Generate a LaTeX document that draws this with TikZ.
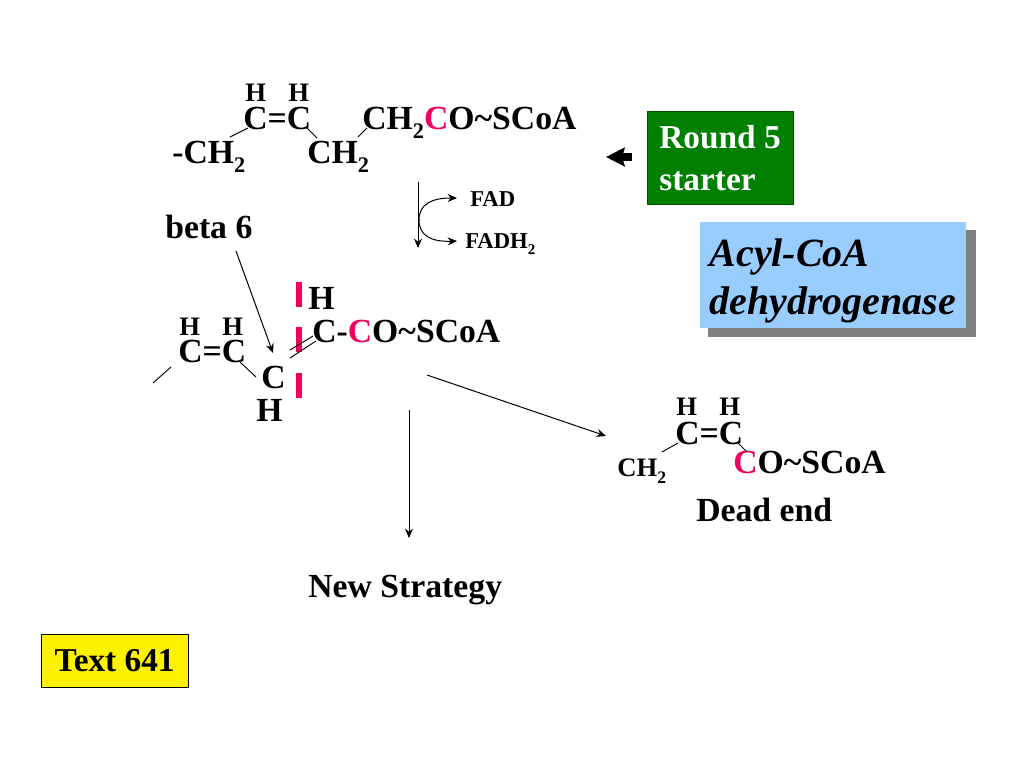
\documentclass[tikz,border=0pt]{standalone}
\usepackage{fontspec}
\setmainfont{Liberation Serif}
\usepackage{xcolor}
\usetikzlibrary{arrows.meta}
\definecolor{chemred}{HTML}{F0005F}
\definecolor{startgreen}{HTML}{007F00}
\definecolor{enzblue}{HTML}{99CCFF}
\definecolor{enzshadow}{HTML}{808080}
\newcommand{\subtwo}{\raisebox{-.27em}{\scalebox{.66}{2}}}
\newcommand{\rC}{\textcolor{chemred}{C}}
\tikzset{
  chem/.style={inner sep=0pt, anchor=base west, font=\fontsize{25.3}{30}\selectfont\bfseries},
  chemh/.style={chem, font=\fontsize{20}{24}\selectfont\bfseries},
  chemsmall/.style={chem, font=\fontsize{17}{20}\selectfont\bfseries},
  bond/.style={line width=.7pt},
  cutbar/.style={fill=chemred, inner sep=0pt, minimum width=4.5pt, minimum height=19pt}
}
\begin{document}
\begin{tikzpicture}[>={Stealth[length=7pt,width=6pt]}, x=.75pt, y=-.75pt]
  \useasboundingbox (0,0) rectangle (1024,768);
  %coordinates
  \coordinate (FADtop)   at (418,182);
  \coordinate (FADbot)   at (418,248);
  \coordinate (FADmid)   at (419,220);
  \coordinate (StubA)    at (153,383);
  \coordinate (StubB)    at (171,367);
  \coordinate (StartTip) at (606,157);
  \coordinate (StartEnd) at (632,157);

  %nodes
  \node[chemh] (HA) at (245,101) {H};
  \node[chemh] (HB) at (288,101) {H};
  \node[chem] (CCtop) at (243,129) {C=C};
  \node[chem] (AcylTop) at (362,129) {CH\subtwo\rC O\textasciitilde SCoA};
  \node[chem] (CHleft) at (172,163) {-CH\subtwo};
  \node[chem] (CHmid) at (307,163) {CH\subtwo};
  \node[chemsmall] (FAD) at (470,206) {FAD};
  \node[chemsmall] (FADH) at (465,248) {FADH\subtwo};
  \node[chem] (Beta) at (165,238) {beta 6};

  \node[cutbar] (BarA) at (298.5,294.5) {};
  \node[cutbar] (BarB) at (298.5,339.5) {};
  \node[cutbar] (BarC) at (298.5,385.5) {};
  \node[chem] (HC) at (308,309) {H};
  \node[chem] (AcylMid) at (312,342) {C-\rC O\textasciitilde SCoA};
  \node[chemh] (HD) at (179,335) {H};
  \node[chemh] (HE) at (222,335) {H};
  \node[chem] (CCmid) at (178,362) {C=C};
  \node[chem] (CLow) at (261,388) {C};
  \node[chem] (HF) at (256,421) {H};

  \node[chemh] (HG) at (676,415) {H};
  \node[chemh] (HH) at (719,415) {H};
  \node[chem] (CCend) at (675,444) {C=C};
  \node[chem, font=\fontsize{20}{24}\selectfont\bfseries] (CHend) at (617,476) {CH\subtwo};
  \node[chem] (AcylEnd) at (733,473) {\rC O\textasciitilde SCoA};
  \node[chem] (Dead) at (696,521) {Dead end};
  \node[chem] (Strategy) at (308,597) {New Strategy};

  \node[draw=green!30!black, fill=startgreen, text=white, anchor=north west, minimum width=110pt, minimum height=70pt, inner sep=0pt, align=left, font=\fontsize{25}{31}\selectfont\bfseries] (Round) at (646.5,111) {Round 5\hspace{1pt}\\ starter};
  \node[fill=enzshadow, anchor=north west, minimum width=200.5pt, minimum height=80pt, inner sep=0pt] (EnzShadow) at (708,230) {};
  \node[fill=enzblue, anchor=north west, minimum width=199pt, minimum height=79.5pt, inner sep=0pt, align=left, font=\fontsize{30}{36}\selectfont\bfseries\itshape] (Enzyme) at (700,222) {\rule{0pt}{29pt}Acyl-CoA\\ dehydrogenase};
  \node[draw, fill=yellow, anchor=north west, minimum width=110pt, minimum height=39.5pt, inner sep=0pt, font=\fontsize{25}{30}\selectfont\bfseries] (Text) at (41,634) {Text 641\hspace{4pt}};

%bonds
\draw[bond] ([shift={(5,-1)}]CCtop.base west) -- ([shift={(58,-26)}]CHleft.base west);
\draw[bond] ([shift={(64,-1)}]CCtop.base west) -- ([shift={(10,-25)}]CHmid.base west);
\draw[bond] ([shift={(51,-26)}]CHmid.base west) -- ([shift={(5,-1)}]AcylTop.base west);
\draw[bond] (StubA) -- (StubB);
\draw[bond] ([shift={(62,0)}]CCmid.base west) -- ([shift={(-5,-11)}]CLow.base west);
\draw[bond] ([shift={(29,-38)}]CLow.base west) -- ([shift={(1,-6)}]AcylMid.base west);
\draw[bond] ([shift={(29,-30)}]CLow.base west) -- ([shift={(4,-1)}]AcylMid.base west);
\draw[bond] ([shift={(3,-1)}]CCend.base west) -- ([shift={(45,-24)}]CHend.base west);
\draw[bond] ([shift={(63,-1)}]CCend.base west) -- ([shift={(14,-21)}]AcylEnd.base west);

%arrows
\draw[->, line width=.75pt] (FADtop) -- (FADbot);
\draw[->, line width=.75pt] (FADmid) .. controls (419,204) and (432,198) .. ([shift={(-13,-8)}]FAD.base west);
\draw[->, line width=.75pt] (FADmid) .. controls (419,236) and (432,242) .. ([shift={(-8,-7)}]FADH.base west);
\draw[->, line width=.75pt] ([shift={(71,13)}]Beta.base west) -- ([shift={(12,-35)}]CLow.base west);
\draw[->, line width=.75pt] ([shift={(115,33)}]AcylMid.base west) -- ([shift={(-11,-40)}]CHend.base west);
\draw[->, line width=.75pt] ([shift={(97,68)}]AcylMid.base west) -- ([shift={(101,-59)}]Strategy.base west);
\draw[-{Stealth[length=14pt,width=14pt,inset=2pt]}, line width=6pt] (StartEnd) -- (StartTip);

\end{tikzpicture}
\end{document}
